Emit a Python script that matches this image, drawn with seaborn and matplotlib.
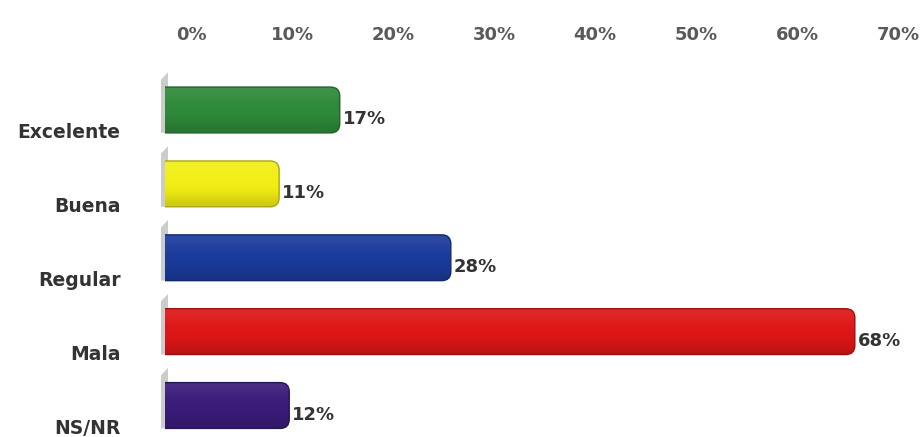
import numpy as np
import pandas as pd
import matplotlib
matplotlib.use("Agg")
import matplotlib.pyplot as plt
import seaborn as sns
from matplotlib.patches import FancyBboxPatch, Polygon
from matplotlib.transforms import ScaledTranslation
from matplotlib.colors import to_rgb

# Survey answers and their shares (%)
categories = ["Excelente", "Buena", "Regular", "Mala", "NS/NR"]
values = [17, 11, 28, 68, 12]
bar_colors = ["#2f8a3a", "#f2ee14", "#1b3b9c", "#de1616", "#3b1c7a"]
tick_values = [0, 10, 20, 30, 40, 50, 60, 70]
tick_labels = [f"{t}%" for t in tick_values]

sns.set_theme(style="white")
plt.rcParams["font.family"] = ["DejaVu Sans"]

W, H, DPI = 922, 437, 100
fig = plt.figure(figsize=(W / DPI, H / DPI), dpi=DPI)
fig.patch.set_facecolor("white")

left_px, top_px = 165, 55
ax = fig.add_axes([left_px / W, 0, (W - left_px) / W, (H - top_px) / H])

df = pd.DataFrame({"categoria": categories, "valor": values})
sns.barplot(data=df, x="valor", y="categoria", hue="categoria",
            palette=bar_colors, orient="h", width=0.62, legend=False,
            ax=ax, saturation=1)

px_per_pct = 10.1
px_per_row = 73.9
ax.set_xlim(0, (W - left_px) / px_per_pct)
ax.set_ylim(4 + (H - 405.5) / px_per_row, -(110 - top_px) / px_per_row)

# mutation aspect converts the x rounding radius into y data units
aspect = (1 / px_per_row) / (1 / px_per_pct)
r = 0.9


def shade(color, f):
    c = np.array(to_rgb(color))
    if f >= 0:
        return c + (1 - c) * f
    return c * (1 + f)


for patch, col in zip(list(ax.patches), bar_colors):
    x0, y0 = patch.get_x(), patch.get_y()
    w, h = patch.get_width(), patch.get_height()
    patch.set_visible(False)

    # grey side wall of the 3D bar
    wall = Polygon([[-0.4, y0 + h], [-0.4, y0 - 0.1], [0.3, y0 - 0.2],
                    [0.3, y0 + h]], closed=True, facecolor="#c4c4c4",
                   edgecolor="none", alpha=0.85, clip_on=False, zorder=1)
    ax.add_patch(wall)

    body = FancyBboxPatch((x0 - r, y0), w + r + 0.3, h,
                          boxstyle=f"round,pad=0,rounding_size={r}",
                          mutation_aspect=aspect, facecolor="none",
                          edgecolor=shade(col, -0.3), linewidth=1.0,
                          zorder=3)
    ax.add_patch(body)
    grad = np.array([shade(col, 0.08), shade(col, 0.02), shade(col, 0.0),
                     shade(col, -0.03), shade(col, -0.15)])
    img = ax.imshow(grad[:, None, :], extent=(x0, x0 + w + 0.3, y0 + h, y0),
                    aspect="auto", interpolation="bicubic", zorder=2)
    img.set_clip_path(body)

for i, v in enumerate(values):
    ax.annotate(f"{v}%", xy=(v, i), xytext=(6, -9),
                textcoords="offset pixels", ha="left", va="center",
                fontsize=13, fontweight="bold", color="#333333")

ax.set_xticks(tick_values)
ax.set_xticklabels(tick_labels)
ax.xaxis.tick_top()
ax.tick_params(axis="x", length=0, pad=8, labelsize=13, labelcolor="#5a5a5a")
ax.tick_params(axis="y", length=0, pad=32, labelsize=13.5, labelcolor="#333333")
for lab in ax.get_xticklabels():
    lab.set_fontweight("bold")
    lab.set_transform(lab.get_transform() + ScaledTranslation(0.26, 0, fig.dpi_scale_trans))
for lab in ax.get_yticklabels():
    lab.set_fontweight("bold")
    lab.set_transform(lab.get_transform() + ScaledTranslation(0, -0.21, fig.dpi_scale_trans))

ax.set_xlabel("")
ax.set_ylabel("")
for s in ax.spines.values():
    s.set_visible(False)
ax.grid(False)
ax.set_facecolor("white")

fig.savefig("out.png", dpi=DPI, facecolor="white")
